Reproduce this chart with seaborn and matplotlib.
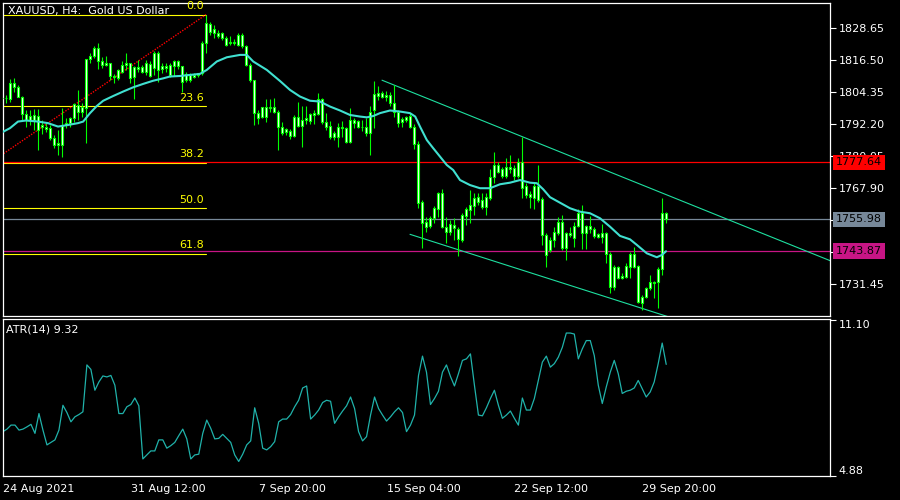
import matplotlib
matplotlib.use("Agg")
import matplotlib.pyplot as plt
import matplotlib.transforms as mtransforms
import numpy as np
import pandas as pd
import seaborn as sns

# XAUUSD H4 candles, bar 0 = 24 Aug 2021 00:00
opens = [
    1802.0, 1802.0, 1801.6, 1807.6, 1806.1, 1802.6, 1796.0, 1793.7, 1793.7, 1795.2,
    1791.2, 1791.2, 1790.6, 1786.8, 1784.2, 1784.2, 1791.8, 1792.5, 1794.4, 1799.4,
    1796.9, 1798.2, 1816.8, 1817.8, 1820.9, 1815.9, 1814.6, 1815.2, 1810.4, 1809.6,
    1812.1, 1814.6, 1815.2, 1810.2, 1813.7, 1813.7, 1812.1, 1815.0, 1813.4, 1819.0,
    1813.0, 1814.2, 1814.6, 1814.0, 1815.9, 1814.0, 1808.9, 1810.8, 1810.2, 1810.8,
    1811.4, 1822.8, 1830.2, 1828.2, 1826.6, 1826.6, 1824.7, 1822.8, 1823.4, 1822.2,
    1826.0, 1821.6, 1814.6, 1808.9, 1796.3, 1794.7, 1798.5, 1798.2, 1796.9, 1796.9,
    1791.2, 1789.3, 1789.7, 1787.6, 1795.0, 1791.4, 1793.7, 1793.5, 1795.6, 1796.0,
    1801.6, 1793.1, 1791.4, 1787.2, 1787.2, 1791.2, 1790.6, 1785.5, 1793.7, 1793.5,
    1791.0, 1791.0, 1788.7, 1797.3, 1802.8, 1804.1, 1802.6, 1803.2, 1800.3, 1796.9,
    1793.1, 1793.7, 1795.2, 1791.0, 1784.6, 1762.7, 1753.2, 1753.5, 1756.4, 1759.8,
    1765.9, 1753.0, 1751.3, 1753.9, 1752.2, 1748.2, 1757.3, 1759.5, 1761.1, 1762.7,
    1763.3, 1760.8, 1764.0, 1772.0, 1776.6, 1775.0, 1772.5, 1775.8, 1775.4, 1772.5,
    1777.9, 1768.7, 1765.6, 1764.0, 1768.7, 1763.6, 1750.1, 1744.4, 1748.2, 1750.7,
    1755.1, 1745.0, 1750.9, 1748.8, 1753.5, 1758.5, 1750.7, 1753.5, 1752.2, 1749.4,
    1749.4, 1750.9, 1742.8, 1730.4, 1737.8, 1733.6, 1734.0, 1738.0, 1742.8, 1738.3,
    1724.3, 1726.4, 1729.8, 1732.3, 1732.3, 1737.0, 1758.3,
]
highs = [
    1802.4, 1803.2, 1809.2, 1809.5, 1807.0, 1802.8, 1797.5, 1797.5, 1797.8, 1797.8,
    1793.7, 1792.6, 1791.8, 1788.0, 1789.9, 1798.2, 1794.4, 1795.0, 1800.3, 1805.1,
    1800.3, 1816.8, 1819.0, 1821.6, 1822.8, 1817.5, 1817.8, 1815.2, 1811.2, 1813.0,
    1815.9, 1819.3, 1815.5, 1814.2, 1816.5, 1814.6, 1816.5, 1815.9, 1820.0, 1819.7,
    1815.5, 1815.2, 1815.2, 1816.5, 1816.5, 1814.0, 1812.1, 1811.5, 1811.5, 1811.7,
    1823.5, 1833.6, 1830.7, 1829.8, 1827.9, 1827.2, 1825.4, 1825.4, 1824.4, 1826.6,
    1826.6, 1822.2, 1815.2, 1808.9, 1797.5, 1798.8, 1801.6, 1801.6, 1802.0, 1797.5,
    1793.1, 1790.6, 1790.2, 1795.6, 1800.7, 1799.0, 1799.0, 1796.5, 1797.5, 1803.9,
    1802.0, 1796.5, 1793.5, 1789.7, 1792.7, 1793.5, 1791.2, 1798.2, 1794.4, 1793.7,
    1793.7, 1794.4, 1799.0, 1808.6, 1806.6, 1804.8, 1804.8, 1804.5, 1807.0, 1797.5,
    1794.7, 1795.2, 1796.3, 1792.2, 1785.7, 1763.3, 1757.0, 1757.3, 1761.1, 1766.5,
    1767.4, 1757.0, 1755.8, 1756.5, 1753.2, 1758.3, 1760.8, 1767.1, 1765.9, 1765.9,
    1765.9, 1765.9, 1775.0, 1781.7, 1777.9, 1776.0, 1779.2, 1780.4, 1776.6, 1779.2,
    1787.4, 1769.7, 1766.9, 1769.7, 1776.6, 1764.6, 1750.7, 1749.4, 1753.2, 1757.0,
    1757.6, 1751.3, 1753.2, 1755.1, 1759.8, 1761.4, 1753.9, 1757.3, 1753.2, 1750.9,
    1754.2, 1751.3, 1743.7, 1738.7, 1738.3, 1735.5, 1739.3, 1743.7, 1745.6, 1738.7,
    1727.3, 1730.4, 1734.9, 1732.4, 1738.0, 1764.0, 1758.9,
]
lows = [
    1801.8, 1800.3, 1800.7, 1804.5, 1802.3, 1793.7, 1791.2, 1791.8, 1789.9, 1782.3,
    1788.4, 1789.3, 1786.1, 1783.0, 1780.4, 1779.8, 1790.6, 1791.2, 1793.1, 1793.7,
    1795.0, 1785.1, 1815.2, 1817.1, 1813.0, 1813.4, 1814.0, 1808.9, 1807.7, 1808.9,
    1811.5, 1812.7, 1807.7, 1801.6, 1812.1, 1811.5, 1810.8, 1809.9, 1810.8, 1808.3,
    1811.5, 1812.1, 1810.2, 1810.4, 1813.0, 1804.5, 1808.3, 1808.3, 1809.6, 1810.2,
    1810.8, 1819.0, 1826.0, 1824.7, 1824.7, 1824.1, 1821.8, 1822.2, 1822.2, 1821.6,
    1820.9, 1814.0, 1808.3, 1791.8, 1792.2, 1794.4, 1793.1, 1796.9, 1796.3, 1782.3,
    1788.0, 1788.0, 1786.4, 1787.4, 1791.2, 1783.6, 1792.2, 1792.2, 1792.2, 1795.6,
    1792.2, 1789.9, 1786.4, 1786.1, 1783.6, 1787.4, 1784.9, 1784.9, 1790.6, 1790.6,
    1789.7, 1787.6, 1780.4, 1790.6, 1801.3, 1802.0, 1801.0, 1799.0, 1795.0, 1791.2,
    1791.2, 1793.1, 1790.6, 1782.6, 1760.2, 1745.0, 1751.3, 1752.6, 1754.5, 1757.0,
    1752.6, 1747.1, 1750.1, 1748.2, 1742.1, 1747.5, 1753.9, 1754.5, 1757.6, 1761.4,
    1759.8, 1757.6, 1763.3, 1769.7, 1773.5, 1771.6, 1771.6, 1773.5, 1770.9, 1771.6,
    1764.0, 1764.0, 1760.2, 1759.8, 1762.7, 1746.3, 1737.8, 1743.7, 1745.6, 1750.1,
    1744.4, 1740.6, 1749.4, 1745.6, 1753.0, 1744.6, 1744.6, 1750.7, 1748.8, 1748.8,
    1746.9, 1739.3, 1727.9, 1729.2, 1733.2, 1733.2, 1733.6, 1733.6, 1737.4, 1724.3,
    1721.6, 1726.0, 1729.2, 1726.0, 1722.2, 1734.9, 1754.5,
]
closes = [
    1802.2, 1802.2, 1807.6, 1806.1, 1802.6, 1796.0, 1793.7, 1795.2, 1795.6, 1789.9,
    1791.8, 1790.2, 1786.8, 1784.2, 1784.9, 1791.8, 1792.5, 1794.4, 1799.8, 1796.9,
    1798.8, 1816.8, 1818.0, 1820.9, 1815.9, 1814.6, 1815.2, 1810.4, 1809.9, 1812.7,
    1814.6, 1815.2, 1809.6, 1813.7, 1813.0, 1812.1, 1815.2, 1810.4, 1819.0, 1812.7,
    1814.2, 1813.4, 1810.8, 1815.9, 1814.0, 1808.3, 1811.2, 1808.9, 1810.8, 1811.4,
    1822.8, 1830.4, 1827.2, 1826.6, 1825.6, 1824.7, 1822.2, 1823.4, 1822.8, 1826.0,
    1821.6, 1814.6, 1808.9, 1796.3, 1794.4, 1798.5, 1795.0, 1798.5, 1798.8, 1791.2,
    1788.9, 1790.2, 1787.6, 1795.0, 1791.4, 1793.7, 1794.4, 1796.0, 1796.3, 1801.6,
    1793.1, 1791.2, 1787.2, 1788.7, 1791.2, 1790.6, 1785.5, 1793.7, 1792.7, 1791.0,
    1791.2, 1788.7, 1796.9, 1803.6, 1804.1, 1802.6, 1803.2, 1800.3, 1796.9, 1792.7,
    1794.0, 1794.7, 1791.0, 1784.6, 1762.3, 1754.7, 1755.1, 1756.4, 1760.2, 1765.9,
    1753.0, 1751.3, 1754.2, 1752.6, 1748.4, 1757.6, 1759.8, 1761.4, 1764.0, 1764.4,
    1760.8, 1764.4, 1772.0, 1776.6, 1774.1, 1772.5, 1775.8, 1775.0, 1772.5, 1777.9,
    1767.8, 1765.2, 1764.4, 1768.7, 1763.3, 1750.1, 1742.5, 1748.2, 1751.3, 1755.1,
    1745.0, 1750.9, 1750.1, 1753.5, 1758.5, 1750.7, 1753.5, 1752.2, 1749.7, 1750.4,
    1750.9, 1742.8, 1730.4, 1737.8, 1733.6, 1734.5, 1738.3, 1742.8, 1738.0, 1724.7,
    1726.4, 1729.8, 1732.3, 1731.9, 1737.0, 1758.3, 1755.98,
]

# moving average (turquoise), sampled along the line
ma_bars = [0, 2, 4, 6, 9, 11.5, 14, 16.5, 19, 20.3, 22, 23.7, 25.3, 27.8, 30.3,
           32.8, 35.3, 37.8, 40.3, 42, 44.5, 49.5, 51.2, 53.7, 56.2, 59.5, 61.2,
           62.8, 66.2, 69.5, 72, 74.5, 77, 79.5, 82, 84.5, 87, 89.5, 91.2, 92.8,
           94.5, 97, 99.5, 102, 103.3, 104.5, 106.2, 107.8, 109.5, 111.2, 112.8,
           114.5, 117, 119.5, 122, 124.5, 127, 129.5, 132, 133.7, 135.3, 137,
           139.5, 142, 144.5, 147, 149.5, 152, 154.5, 157, 158.7, 161.2, 163.7,
           165, 166]
ma_values = [1789.0, 1790.6, 1793.1, 1793.5, 1793.1, 1792.5, 1791.2, 1791.8, 1792.5,
             1793.1, 1796.3, 1799.0, 1801.0, 1802.8, 1804.5, 1806.1, 1807.4, 1808.6,
             1809.5, 1810.2, 1810.4, 1811.2, 1812.7, 1815.9, 1817.5, 1818.4, 1818.4,
             1815.9, 1812.7, 1808.5, 1805.1, 1802.6, 1801.0, 1800.7, 1798.8, 1797.3,
             1795.6, 1795.0, 1794.7, 1795.2, 1796.3, 1797.3, 1796.9, 1796.3, 1795.0,
             1791.2, 1786.1, 1783.0, 1779.8, 1776.6, 1774.7, 1770.9, 1769.0, 1767.8,
             1767.8, 1769.3, 1769.9, 1770.9, 1769.9, 1769.7, 1767.4, 1764.4, 1762.3,
             1760.2, 1758.9, 1758.3, 1756.4, 1753.2, 1749.7, 1748.4, 1746.3, 1743.1,
             1741.6, 1742.5, 1743.87]

atr_values = [
    6.64, 6.74, 6.90, 6.90, 6.70, 6.74, 6.83, 6.93, 6.57, 7.36,
    6.70, 6.11, 6.21, 6.31, 6.70, 7.69, 7.40, 7.03, 7.23, 7.32,
    7.43, 9.30, 9.12, 8.29, 8.62, 8.86, 8.82, 8.88, 8.49, 7.36,
    7.36, 7.63, 7.72, 7.98, 7.67, 5.55, 5.71, 5.87, 5.87, 6.31,
    6.31, 5.98, 6.08, 6.21, 6.48, 6.74, 6.35, 5.55, 5.71, 5.74,
    6.57, 7.10, 6.77, 6.35, 6.37, 6.53, 6.37, 6.21, 5.71, 5.45,
    5.74, 6.11, 6.27, 7.59, 6.97, 5.98, 5.91, 6.04, 6.24, 7.03,
    7.14, 7.14, 7.32, 7.63, 7.89, 8.38, 8.46, 7.14, 7.30, 7.50,
    7.80, 7.89, 7.85, 6.97, 7.23, 7.46, 7.67, 8.02, 7.56, 6.64,
    6.27, 6.44, 7.30, 8.02, 7.56, 7.30, 7.06, 7.23, 7.43, 7.59,
    7.40, 6.64, 6.90, 7.30, 8.88, 9.65, 9.01, 7.72, 7.96, 8.25,
    9.01, 9.30, 8.84, 8.46, 8.95, 9.48, 9.54, 9.74, 8.49, 7.30,
    7.27, 7.59, 7.96, 8.29, 7.69, 7.17, 7.30, 7.46, 7.17, 6.90,
    7.98, 7.50, 7.50, 7.96, 8.68, 9.41, 9.65, 9.21, 9.35, 9.61,
    10.00, 10.57, 10.57, 10.53, 9.54, 9.94, 10.27, 10.27, 9.67, 8.49,
    7.76, 8.42, 9.01, 9.48, 8.95, 8.16, 8.25, 8.29, 8.38, 8.68,
    8.35, 8.02, 8.22, 8.62, 9.35, 10.17, 9.32,
]

date_ticks = [0, 32, 64, 96, 128, 160]
date_labels = ["24 Aug 2021", "31 Aug 12:00", "7 Sep 20:00",
               "15 Sep 04:00", "22 Sep 12:00", "29 Sep 20:00"]
price_ticks = [1828.65, 1816.50, 1804.35, 1792.20, 1780.05, 1767.90,
               1755.75, 1743.60, 1731.45]
# labels hidden behind the price boxes on the scale
covered_ticks = [1755.75, 1743.60]
atr_ticks = [4.88, 11.10]

# fibonacci retracement anchors (bar, price) and levels
fib_low = (-90, 1686.7)
fib_high = (51, 1833.7)
fib_levels = [0.0, 23.6, 38.2, 50.0, 61.8]

# trend lines, two points each (bar, price), drawn as rays to the right
upper_trend = [(95, 1808.8), (130, 1787.4)]
lower_trend = [(102, 1750.3), (160, 1722.2)]

# horizontal price lines: level line, bid, MA value
hline_values = [1777.64, 1755.98, 1743.87]
hline_colors = ["#ff0000", "#778899", "#c71585"]

GREEN = "#00ff00"

sns.set_style("dark")
plt.rcParams["font.family"] = ["DejaVu Sans"]

fig = plt.figure(figsize=(9, 5), dpi=100, facecolor="black")
ax = fig.add_axes([3 / 900, 1 - 316 / 500, 827 / 900, 313 / 500])
ax2 = fig.add_axes([3 / 900, 1 - 476 / 500, 827 / 900, 157 / 500])

for a in (ax, ax2):
    a.set_facecolor("black")
    a.grid(False)
    for sp in a.spines.values():
        sp.set_color("white")
        sp.set_linewidth(0.9)
        sp.set_visible(True)

df = pd.DataFrame({"open": opens, "high": highs, "low": lows, "close": closes})
df["bar"] = np.arange(len(df))

# fib levels and the red dotted fib trend line
span = fib_high[1] - fib_low[1]
for lvl in fib_levels:
    p = fib_high[1] - span * lvl / 100
    ax.plot([fib_low[0], fib_high[0]], [p, p], color="yellow", lw=0.8, zorder=1)
    ax.annotate(f"{lvl:.1f}", (fib_high[0] - 0.5, p), xytext=(0, 2.5),
                textcoords="offset points", ha="right", va="bottom",
                color="yellow", fontsize=8, zorder=6)
ax.plot([fib_low[0], fib_high[0]], [fib_low[1], fib_high[1]], color="red",
        ls=(0, (1, 1)), lw=1.0, zorder=2)

for v, c in zip(hline_values, hline_colors):
    ax.axhline(v, color=c, lw=0.9, zorder=1.5)

for (x0, y0), (x1, y1) in (upper_trend, lower_trend):
    slope = (y1 - y0) / (x1 - x0)
    ax.plot([x0, 230], [y0, y0 + slope * (230 - x0)], color="#1ee0a0", lw=0.8, zorder=2)

# candles
ax.vlines(df["bar"], df["low"], df["high"], color=GREEN, lw=0.8, zorder=3)
body_low = df[["open", "close"]].min(axis=1)
body_h = (df["close"] - df["open"]).abs()
ax.bar(df["bar"], body_h, bottom=body_low, width=0.45, color="white",
       edgecolor=GREEN, linewidth=0.8, zorder=4)

sns.lineplot(x=ma_bars, y=ma_values, ax=ax, color="#40e0d0", lw=1.5, zorder=5)

ax.set_xlim(0.25, 207)
ax.set_ylim(1719.3, 1838.1)
ax.set_xticks([])
ax.yaxis.tick_right()
ax.set_yticks(price_ticks)
ax.set_yticklabels(["" if t in covered_ticks else f"{t:.2f}" for t in price_ticks])
ax.tick_params(axis="y", colors="white", length=4, width=0.8, pad=2,
               labelsize=8, direction="out")
ax.set_xlabel("")
ax.set_ylabel("")

ax.text(0.006, 0.974, "XAUUSD, H4:  Gold US Dollar", transform=ax.transAxes,
        color="white", fontsize=8, ha="left", va="center", zorder=7)

# price boxes on the scale, drawn at figure level so they sit above the tick labels
trans = mtransforms.blended_transform_factory(ax.transAxes, ax.transData)
for v, c in zip(hline_values, hline_colors):
    fig.text(1.0073, v, f"{v:.2f}", transform=trans, ha="left", va="center",
             fontsize=8, color="black", zorder=10,
             bbox=dict(boxstyle="square,pad=0.25", fc=c, ec="none"))

# ATR sub-window
sns.lineplot(x=df["bar"], y=atr_values, ax=ax2, color="#20b2aa", lw=0.9)
ax2.set_xlim(0.25, 207)
ax2.set_ylim(4.87, 11.13)
ax2.set_xlabel("")
ax2.set_ylabel("")
ax2.yaxis.tick_right()
ax2.set_yticks(atr_ticks)
ax2.set_yticklabels([f"{t:.2f}" for t in atr_ticks])
ylabels = ax2.get_yticklabels()
ylabels[0].set_va("bottom")
ylabels[1].set_va("top")
ax2.set_xticks(date_ticks)
ax2.set_xticklabels(date_labels)
for lab in ax2.get_xticklabels():
    lab.set_ha("left")
ax2.tick_params(axis="both", colors="white", length=4, width=0.8, pad=2,
                labelsize=8, direction="out")
ax2.text(0.004, 0.93, "ATR(14) 9.32", transform=ax2.transAxes, color="white",
         fontsize=8, ha="left", va="center")

fig.savefig("out.png", dpi=100, facecolor="black")
